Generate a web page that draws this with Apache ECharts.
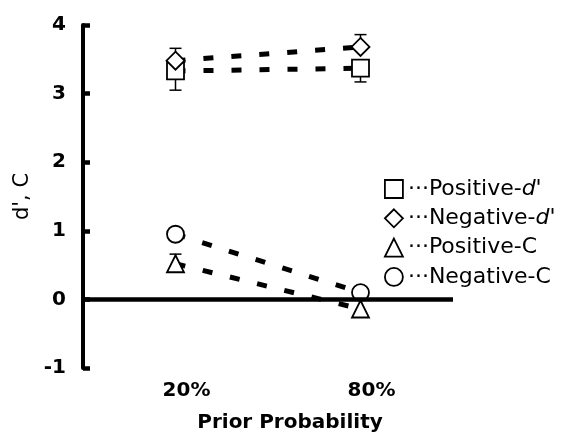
<!DOCTYPE html>
<html>
<head>
<meta charset="utf-8">
<script src="https://cdn.jsdelivr.net/npm/echarts@6/dist/echarts.min.js"></script>
<style>
html,body{margin:0;padding:0;background:#fff;}
#chart{width:586px;height:439px;}
</style>
</head>
<body>
<div id="chart"></div>
<script>
var categories = ['20%', '80%'];
var yTicks = [-1, 0, 1, 2, 3, 4];
var seriesNames = ["Positive-d'", "Negative-d'", "Positive-C", "Negative-C"];
var positiveD = [3.33, 3.37];
var negativeD = [3.48, 3.68];
var positiveC = [0.52, -0.14];
var negativeC = [0.95, 0.10];
// one-sided error bars (signed length)
var positiveDErr = [-0.28, -0.20];
var negativeDErr = [0.18, 0.18];
var positiveCErr = [0.14, 0];
var negativeCErr = [0, 0];

var FONT = 'DejaVu Sans';
var values = [positiveD, negativeD, positiveC, negativeC];
var errs = [positiveDErr, negativeDErr, positiveCErr, negativeCErr];
var symbols = ['rect', 'diamond', 'triangle', 'circle'];
var sizes = [17, 18, 17, 17];

var errData = [];
values.forEach(function (vals, s) {
  vals.forEach(function (v, i) {
    if (errs[s][i] !== 0) errData.push([i, v, v + errs[s][i]]);
  });
});

var chart = echarts.init(document.getElementById('chart'), null, {renderer: 'canvas'});

var series = [{
  type: 'custom',
  z: 1,
  data: errData,
  renderItem: function (params, api) {
    var p0 = api.coord([api.value(0), api.value(1)]);
    var p1 = api.coord([api.value(0), api.value(2)]);
    var hw = 6;
    var st = {stroke: '#000', lineWidth: 1.5};
    return {
      type: 'group',
      children: [
        {type: 'line', shape: {x1: p0[0], y1: p0[1], x2: p1[0], y2: p1[1]}, style: st},
        {type: 'line', shape: {x1: p1[0] - hw, y1: p1[1], x2: p1[0] + hw, y2: p1[1]}, style: st}
      ]
    };
  },
  markLine: {
    silent: true,
    symbol: ['none', 'none'],
    label: {show: false},
    lineStyle: {color: '#000', width: 4.5, type: 'solid'},
    data: [{yAxis: 0}]
  }
}];

values.forEach(function (vals, s) {
  series.push({
    name: seriesNames[s],
    type: 'line',
    z: 2,
    data: vals,
    symbol: symbols[s],
    symbolSize: sizes[s],
    showAllSymbol: true,
    itemStyle: {color: '#fff', borderColor: '#000', borderWidth: 1.8},
    lineStyle: {color: '#000', width: 5, type: [10, 18]}
  });
});

var legendPrefix = {"Positive-d'": 'Positive-', "Negative-d'": 'Negative-'};

chart.setOption({
  animation: false,
  backgroundColor: '#fff',
  grid: {left: 83, right: 133, top: 25, bottom: 71, containLabel: false},
  legend: {
    orient: 'vertical',
    left: 384,
    top: 178,
    padding: 0,
    itemWidth: 18,
    itemHeight: 18,
    itemGap: 7.3,
    itemStyle: {color: '#fff', borderColor: '#000', borderWidth: 1.8},
    data: seriesNames.map(function (n, i) { return {name: n, icon: symbols[i]}; }),
    formatter: function (name) {
      if (legendPrefix[name]) return '\u00b7\u00b7\u00b7' + legendPrefix[name] + "{i|d'}";
      return '\u00b7\u00b7\u00b7' + name;
    },
    textStyle: {
      fontFamily: FONT, fontSize: 22, color: '#000', lineHeight: 22,
      rich: {i: {fontFamily: FONT, fontSize: 22, fontStyle: 'italic', color: '#000', lineHeight: 22}}
    }
  },
  xAxis: {
    type: 'category',
    data: categories,
    boundaryGap: true,
    position: 'bottom',
    axisLine: {show: false, onZero: false},
    axisTick: {show: false},
    axisLabel: {
      color: '#000', fontFamily: FONT, fontWeight: 'bold', fontSize: 20,
      margin: 13, padding: [0, 0, 0, 22]
    },
    name: 'Prior Probability',
    nameLocation: 'middle',
    nameGap: 45,
    nameTextStyle: {color: '#000', fontFamily: FONT, fontWeight: 'bold', fontSize: 20, padding: [0, 0, 0, 44]},
    splitLine: {show: false}
  },
  yAxis: {
    type: 'value',
    min: yTicks[0],
    max: yTicks[yTicks.length - 1],
    interval: 1,
    axisLine: {show: true, onZero: false, lineStyle: {color: '#000', width: 4}},
    axisTick: {show: true, inside: true, length: 7, lineStyle: {color: '#000', width: 4.5}},
    axisLabel: {color: '#000', fontFamily: FONT, fontWeight: 'bold', fontSize: 20, margin: 17},
    splitLine: {show: false},
    name: "d', C",
    nameLocation: 'middle',
    nameGap: 44,
    nameTextStyle: {color: '#000', fontFamily: FONT, fontSize: 21}
  },
  series: series
});
</script>
</body>
</html>
